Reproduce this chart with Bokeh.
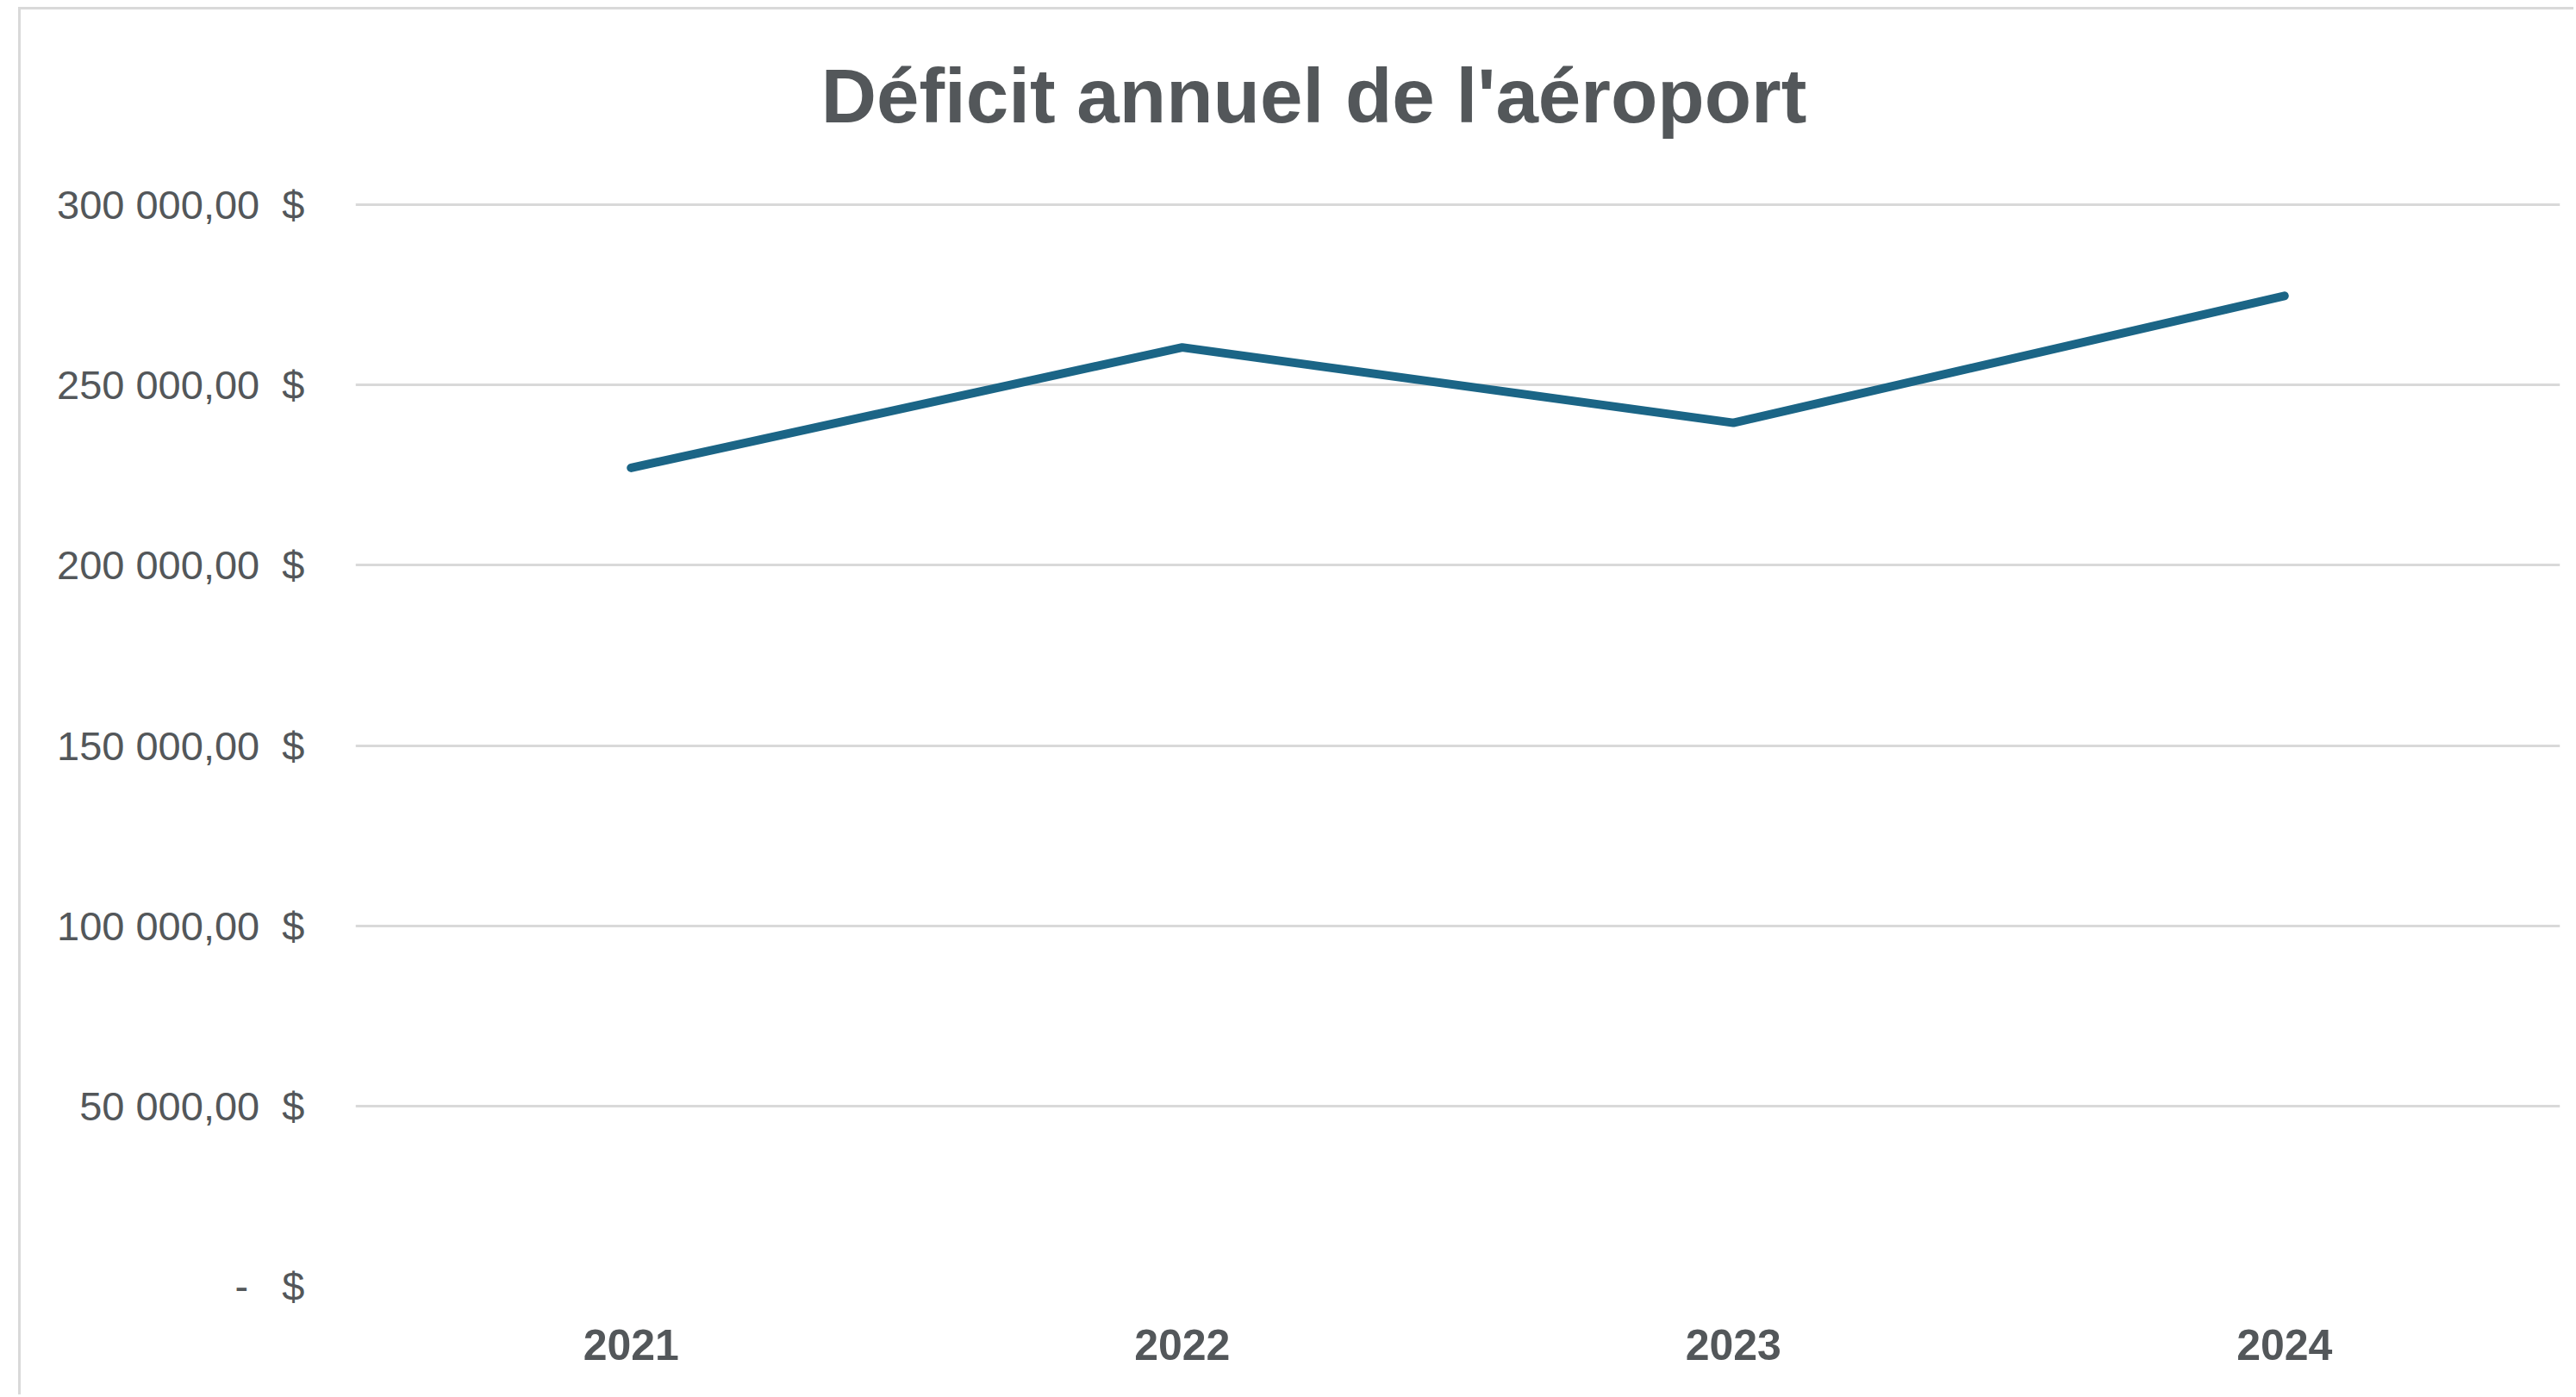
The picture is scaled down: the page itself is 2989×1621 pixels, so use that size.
from bokeh.plotting import figure
from bokeh.models import FactorRange, Range1d, FixedTicker, Label
from bokeh.embed import file_html
from bokeh.resources import INLINE

years = ["2021", "2022", "2023", "2024"]
deficit = [227000, 260400, 239500, 274700]
y_ticks = [0, 50000, 100000, 150000, 200000, 250000, 300000]
y_tick_labels = ["-\u00a0\u00a0\u00a0$",
                 "50\u00a0000,00\u00a0\u00a0$",
                 "100\u00a0000,00\u00a0\u00a0$",
                 "150\u00a0000,00\u00a0\u00a0$",
                 "200\u00a0000,00\u00a0\u00a0$",
                 "250\u00a0000,00\u00a0\u00a0$",
                 "300\u00a0000,00\u00a0\u00a0$"]
title_text = "Déficit annuel de l'aéroport"

TXT = "#53575a"
GRID = "#d9d9d9"

# frame extends to the top of the figure so the title can sit inside it
top_pad = 1481 / 1255

p = figure(width=2965, height=1610, output_backend="svg", toolbar_location=None,
           x_range=FactorRange(*years), y_range=Range1d(0, y_ticks[-1] * top_pad),
           min_border_left=388, min_border_right=19, min_border_top=0,
           min_border_bottom=129, margin=(8, 0, 0, 21))
p.styles = {"border-top": f"3px solid {GRID}", "border-left": f"3px solid {GRID}"}
p.outline_line_color = None
p.background_fill_color = "white"
p.border_fill_color = "white"

p.line(x=years, y=deficit, line_color="#1b6586", line_width=10, line_cap="round")

p.xgrid.visible = False
p.ygrid.grid_line_color = GRID
p.ygrid.grid_line_width = 3

p.yaxis.ticker = FixedTicker(ticks=y_ticks)
p.yaxis.major_label_overrides = {t: l for t, l in zip(y_ticks, y_tick_labels)}
for ax in (p.xaxis[0], p.yaxis[0]):
    ax.axis_line_color = None
    ax.major_tick_line_color = None
    ax.minor_tick_line_color = None
    ax.major_tick_out = 0
    ax.major_tick_in = 0
    ax.major_label_text_color = TXT
    ax.major_label_text_font = "Liberation Sans"
p.yaxis.major_label_text_font_size = "47px"
p.yaxis.major_label_standoff = 59
p.xaxis.major_label_text_font_size = "50px"
p.xaxis.major_label_text_font_style = "bold"
p.xaxis.major_label_standoff = 50

p.add_layout(Label(x=1112, y=1382, x_units="screen", y_units="screen", text=title_text,
                   text_align="center", text_baseline="middle", text_font="Liberation Sans",
                   text_font_style="bold", text_font_size="89px", text_color=TXT))

open("out.html", "w").write(file_html(p, INLINE))
